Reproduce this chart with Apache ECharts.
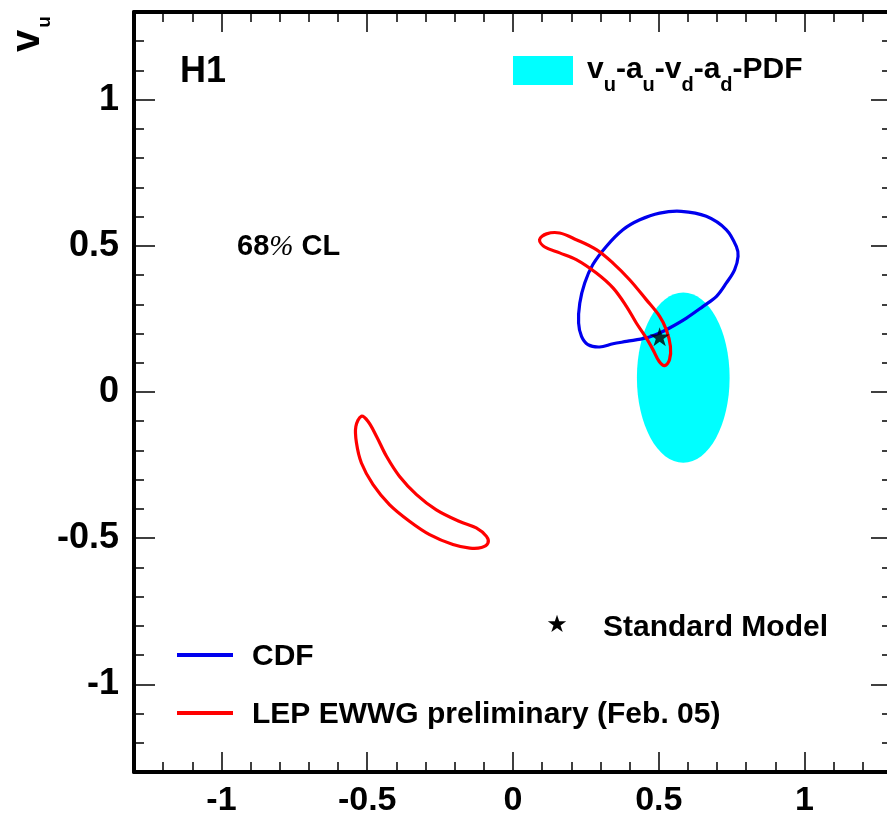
<!DOCTYPE html>
<html><head><meta charset="utf-8">
<script src="https://cdn.jsdelivr.net/npm/echarts@6/dist/echarts.min.js"></script>
<style>html,body{margin:0;padding:0;background:#fff}#c{width:887px;height:816px}</style>
</head><body><div id="c"></div>
<script>
// ---- data (a_u on x, v_u on y) ----
const axisMin = -1.3, axisMax = 1.3;
const majorTicks = [-1, -0.5, 0, 0.5, 1];
const minorTicks = [-1.2,-1.1,-0.9,-0.8,-0.7,-0.6,-0.4,-0.3,-0.2,-0.1,0.1,0.2,0.3,0.4,0.6,0.7,0.8,0.9,1.1,1.2];

const cdfContour = [
  [0.577,0.618],[0.663,0.601],[0.732,0.555],[0.766,0.498],[0.772,0.464],[0.760,0.418],
  [0.732,0.373],[0.698,0.327],[0.652,0.293],[0.595,0.253],[0.537,0.219],[0.503,0.202],
  [0.457,0.185],[0.389,0.173],[0.343,0.165],[0.297,0.154],[0.257,0.162],[0.235,0.190],
  [0.225,0.236],[0.229,0.304],[0.246,0.373],[0.274,0.436],[0.320,0.498],[0.377,0.555],
  [0.435,0.589],[0.503,0.612]
];
const lepContourUpper = [
  [0.091,0.521],[0.115,0.541],[0.160,0.544],[0.217,0.521],[0.286,0.487],[0.343,0.441],
  [0.400,0.384],[0.457,0.316],[0.503,0.259],[0.526,0.213],[0.540,0.156],[0.537,0.111],
  [0.520,0.090],[0.501,0.105],[0.480,0.145],[0.457,0.185],[0.423,0.236],[0.389,0.293],
  [0.343,0.356],[0.286,0.407],[0.217,0.453],[0.160,0.476],[0.109,0.496]
];
const lepContourLower = [
  [-0.520,-0.083],[-0.497,-0.101],[-0.468,-0.152],[-0.434,-0.220],[-0.389,-0.289],
  [-0.331,-0.351],[-0.263,-0.403],[-0.183,-0.443],[-0.126,-0.465],[-0.091,-0.494],
  [-0.086,-0.517],[-0.108,-0.532],[-0.148,-0.534],[-0.206,-0.522],[-0.286,-0.488],
  [-0.354,-0.443],[-0.423,-0.386],[-0.480,-0.317],[-0.520,-0.243],[-0.537,-0.174],
  [-0.539,-0.118]
];
// PDF fit 68% CL region: centre a_u, centre v_u, half-width, half-height
const pdfEllipse = [[0.584, 0.049, 0.159, 0.291]];
const standardModel = [[0.503, 0.189]];

const FONT = '"Liberation Sans", Arial, Helvetica, sans-serif';
const STAR = 'path://M50 0 L61.2 34.5 L97.6 34.5 L68.2 55.9 L79.4 90.5 L50 69.1 L20.6 90.5 L31.8 55.9 L2.4 34.5 L38.8 34.5 Z';

function mkAxis(pos, ticks, len, showLine, label) {
  return {
    type: 'value', position: pos, min: axisMin, max: axisMax, gridIndex: 0,
    axisLine: { show: showLine, onZero: false, lineStyle: { color: '#000', width: 4 } },
    axisTick: { show: true, inside: true, length: len, customValues: ticks, lineStyle: { color: '#000', width: 1.5 } },
    axisLabel: label ? Object.assign({ customValues: majorTicks, color: '#000', fontWeight: 'bold', fontFamily: FONT }, label) : { show: false },
    splitLine: { show: false }
  };
}

function contour(pts, color) {
  return {
    type: 'custom', data: pts, z: 3, silent: true,
    renderItem: function (params, api) {
      if (params.dataIndex !== 0) return null;
      const points = pts.map(p => api.coord(p));
      return { type: 'polygon', shape: { points: points, smooth: 0.35 },
               style: { fill: null, stroke: color, lineWidth: 3.2 } };
    }
  };
}

const chart = echarts.init(document.getElementById('c'), null, { renderer: 'canvas' });
chart.setOption({
  animation: false,
  backgroundColor: '#fff',
  grid: { left: 134, top: 12, width: 758, height: 760, containLabel: false, outerBoundsMode: 'none' },
  xAxis: [
    mkAxis('bottom', majorTicks, 20, true, { fontSize: 34, margin: 12 }),
    mkAxis('bottom', minorTicks, 10, false, null),
    mkAxis('top', majorTicks, 20, true, null),
    mkAxis('top', minorTicks, 10, false, null)
  ],
  yAxis: [
    mkAxis('left', majorTicks, 21, true, { fontSize: 36, margin: 15 }),
    mkAxis('left', minorTicks, 10, false, null),
    mkAxis('right', majorTicks, 21, true, null),
    mkAxis('right', minorTicks, 10, false, null)
  ],
  series: [
    {
      type: 'custom', data: pdfEllipse, z: 1, silent: true,
      renderItem: function (params, api) {
        const c = api.coord([api.value(0), api.value(1)]);
        const s = api.size([api.value(2), api.value(3)]);
        return { type: 'ellipse', shape: { cx: c[0], cy: c[1], rx: s[0], ry: s[1] }, style: { fill: '#00ffff' } };
      }
    },
    contour(cdfContour, '#0000ee'),
    contour(lepContourUpper, '#ff0000'),
    contour(lepContourLower, '#ff0000'),
    { type: 'scatter', data: standardModel, symbol: STAR, symbolSize: [20, 19], z: 5,
      itemStyle: { color: '#000' }, silent: true }
  ],
  graphic: [
    { type: 'text', x: 28, y: 41, rotation: Math.PI / 2,
      style: { text: 'v', fontSize: 40, fontWeight: 'bold', fontFamily: FONT, fill: '#000', align: 'center', verticalAlign: 'middle' } },
    { type: 'text', x: 45, y: 22, rotation: Math.PI / 2,
      style: { text: 'u', fontSize: 19, fontWeight: 'bold', fontFamily: FONT, fill: '#000', align: 'center', verticalAlign: 'middle' } },
    { type: 'text', x: 180, y: 72,
      style: { text: 'H1', fontSize: 36, fontWeight: 'bold', fontFamily: FONT, fill: '#000', align: 'left', verticalAlign: 'middle' } },
    { type: 'rect', shape: { x: 513, y: 56, width: 60, height: 29 }, style: { fill: '#00ffff' } },
    { type: 'text', x: 587, y: 75,
      style: { text: '{m|v}{s|u}{m|-a}{s|u}{m|-v}{s|d}{m|-a}{s|d}{m|-PDF}', align: 'left', verticalAlign: 'middle',
        rich: {
          m: { fontSize: 30, fontWeight: 'bold', fontFamily: FONT, fill: '#000', lineHeight: 40, verticalAlign: 'top' },
          s: { fontSize: 20, fontWeight: 'bold', fontFamily: FONT, fill: '#000', lineHeight: 20, verticalAlign: 'bottom' }
        } } },
    { type: 'text', x: 237, y: 247,
      style: { text: '{a|68}{p|%}{a| CL}', align: 'left', verticalAlign: 'middle',
        rich: {
          a: { fontSize: 29, fontWeight: 'bold', fontFamily: FONT, fill: '#000' },
          p: { fontSize: 29, fontStyle: 'italic', fontFamily: '"Liberation Serif", serif', fill: '#000' }
        } } },
    { type: 'text', x: 557, y: 626,
      style: { text: '\u2605', fontSize: 24, fontFamily: '"DejaVu Sans", sans-serif', fill: '#000', align: 'center', verticalAlign: 'middle' } },
    { type: 'text', x: 603, y: 628,
      style: { text: 'Standard Model', fontSize: 30, fontWeight: 'bold', fontFamily: FONT, fill: '#000', align: 'left', verticalAlign: 'middle' } },
    { type: 'line', shape: { x1: 177, y1: 655, x2: 233, y2: 655 }, style: { stroke: '#0000ee', lineWidth: 4 } },
    { type: 'text', x: 252, y: 657,
      style: { text: 'CDF', fontSize: 30, fontWeight: 'bold', fontFamily: FONT, fill: '#000', align: 'left', verticalAlign: 'middle' } },
    { type: 'line', shape: { x1: 177, y1: 713, x2: 233, y2: 713 }, style: { stroke: '#ff0000', lineWidth: 4 } },
    { type: 'text', x: 252, y: 715,
      style: { text: 'LEP EWWG preliminary (Feb. 05)', fontSize: 30, fontWeight: 'bold', fontFamily: FONT, fill: '#000', align: 'left', verticalAlign: 'middle' } }
  ]
});
</script>
</body></html>
